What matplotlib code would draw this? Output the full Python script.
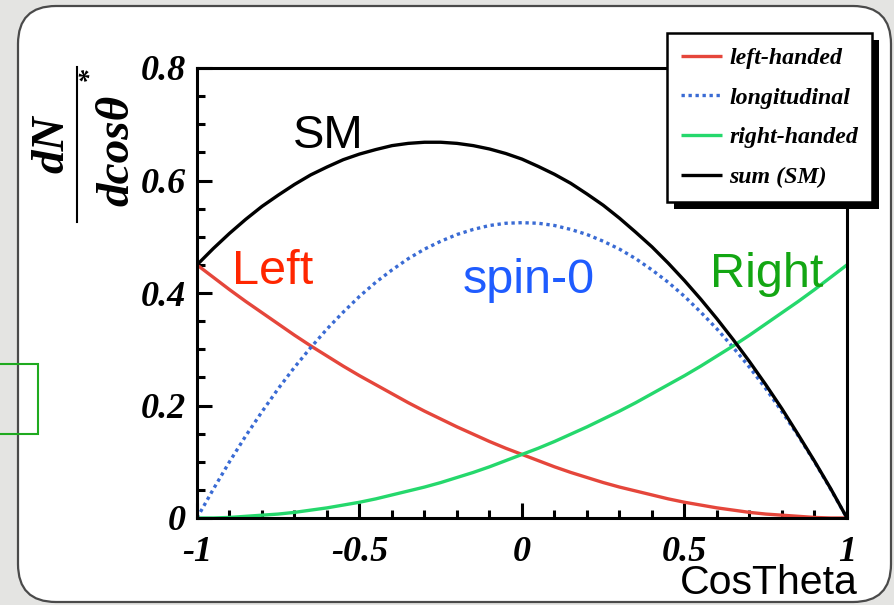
import numpy as np
import matplotlib
matplotlib.use("Agg")
import matplotlib.pyplot as plt
from matplotlib.patches import FancyBboxPatch, Rectangle
from matplotlib.lines import Line2D
from matplotlib.font_manager import FontProperties
from matplotlib.ticker import MultipleLocator, FixedLocator, FixedFormatter

plt.rcParams['axes.unicode_minus'] = False

# ---------------- data ----------------
cos_theta = [-1.00, -0.95, -0.90, -0.85, -0.80, -0.75, -0.70, -0.65, -0.60, -0.55,
             -0.50, -0.45, -0.40, -0.35, -0.30, -0.25, -0.20, -0.15, -0.10, -0.05,
             0.00, 0.05, 0.10, 0.15, 0.20, 0.25, 0.30, 0.35, 0.40, 0.45,
             0.50, 0.55, 0.60, 0.65, 0.70, 0.75, 0.80, 0.85, 0.90, 0.95, 1.00]

left_handed = [0.450, 0.428, 0.406, 0.385, 0.365, 0.345, 0.325, 0.306, 0.288, 0.270,
               0.253, 0.237, 0.221, 0.205, 0.190, 0.176, 0.162, 0.149, 0.136, 0.124,
               0.113, 0.102, 0.091, 0.081, 0.072, 0.063, 0.055, 0.048, 0.041, 0.034,
               0.028, 0.023, 0.018, 0.014, 0.010, 0.007, 0.005, 0.003, 0.001, 0.000, 0.000]

longitudinal = [0.000, 0.051, 0.100, 0.146, 0.189, 0.230, 0.268, 0.303, 0.336, 0.366,
                0.394, 0.419, 0.441, 0.461, 0.478, 0.492, 0.504, 0.513, 0.520, 0.524,
                0.525, 0.524, 0.520, 0.513, 0.504, 0.492, 0.478, 0.461, 0.441, 0.419,
                0.394, 0.366, 0.336, 0.303, 0.268, 0.230, 0.189, 0.146, 0.100, 0.051, 0.000]

right_handed = [0.000, 0.000, 0.001, 0.003, 0.005, 0.007, 0.010, 0.014, 0.018, 0.023,
                0.028, 0.034, 0.041, 0.048, 0.055, 0.063, 0.072, 0.081, 0.091, 0.102,
                0.113, 0.124, 0.136, 0.149, 0.162, 0.176, 0.190, 0.205, 0.221, 0.237,
                0.253, 0.270, 0.288, 0.306, 0.325, 0.345, 0.365, 0.385, 0.406, 0.428, 0.450]

sum_sm = [0.450, 0.479, 0.506, 0.531, 0.554, 0.574, 0.593, 0.610, 0.624, 0.637,
          0.647, 0.655, 0.662, 0.666, 0.668, 0.668, 0.666, 0.662, 0.656, 0.648,
          0.638, 0.625, 0.611, 0.595, 0.576, 0.556, 0.533, 0.508, 0.482, 0.453,
          0.422, 0.389, 0.354, 0.317, 0.278, 0.237, 0.194, 0.148, 0.101, 0.052, 0.000]

legend_labels = ['left-handed', 'longitudinal', 'right-handed', 'sum (SM)']
x_ticks = [-1, -0.5, 0, 0.5, 1]
x_tick_labels = ['-1', '-0.5', '0', '0.5', '1']
y_ticks = [0, 0.2, 0.4, 0.6, 0.8]
y_tick_labels = ['0', '0.2', '0.4', '0.6', '0.8']

# ---------------- figure ----------------
W, H = 895, 605
fig = plt.figure(figsize=(W / 100, H / 100), dpi=100)
fig.patch.set_facecolor('#e4e4e2')

# full-figure pixel axes for the slide frame and annotations
bg = fig.add_axes([0, 0, 1, 1], zorder=-1)
bg.set_xlim(0, W)
bg.set_ylim(H, 0)
bg.axis('off')
bg.add_patch(FancyBboxPatch((18, 6), 873, 596,
                            boxstyle='round,pad=0,rounding_size=38',
                            fc='white', ec='#4a4a4a', lw=1.6))
bg.add_patch(Rectangle((-5, 364), 43, 70, fill=False, ec='#1faa1f', lw=1.5,
                       clip_on=False))

serif_bi = dict(family='Liberation Serif', weight='bold', style='italic')

ax = fig.add_axes([197 / W, 1 - 518 / H, 650 / W, 450 / H])
c_left = '#e5463b'
c_long = '#3a6bd4'
c_right = '#25d86c'
c_sum = '#000000'
l1, = ax.plot(cos_theta, left_handed, color=c_left, lw=2.4, solid_capstyle='butt')
l2, = ax.plot(cos_theta, longitudinal, color=c_long, lw=2.4, ls=(0, (1, 1.1)))
l3, = ax.plot(cos_theta, right_handed, color=c_right, lw=2.4, solid_capstyle='butt')
l4, = ax.plot(cos_theta, sum_sm, color=c_sum, lw=2.4, solid_capstyle='butt')

ax.set_xlim(-1, 1)
ax.set_ylim(0, 0.8)
ax.xaxis.set_major_locator(FixedLocator(x_ticks))
ax.xaxis.set_major_formatter(FixedFormatter(x_tick_labels))
ax.yaxis.set_major_locator(FixedLocator(y_ticks))
ax.yaxis.set_major_formatter(FixedFormatter(y_tick_labels))
ax.xaxis.set_minor_locator(MultipleLocator(0.1))
ax.yaxis.set_minor_locator(MultipleLocator(0.05))
ax.tick_params(which='both', direction='in', top=False, right=False, width=2.2,
               color='black')
ax.tick_params(which='major', length=11)
ax.tick_params(axis='y', which='major', pad=8)
ax.tick_params(axis='x', which='major', pad=13)
ax.tick_params(which='minor', length=5.5)
for lab in ax.get_xticklabels() + ax.get_yticklabels():
    lab.set_fontproperties(FontProperties(size=26, **serif_bi))
for s in ax.spines.values():
    s.set_linewidth(2.2)

# legend
leg = fig.legend([l1, l2, l3, l4], legend_labels, loc='upper left',
                 bbox_to_anchor=(667 / W, 1 - 33 / H), borderaxespad=0,
                 frameon=True, fancybox=False, edgecolor='black', facecolor='white',
                 framealpha=1, prop=FontProperties(size=17.2, **serif_bi),
                 handlelength=1.7, handletextpad=0.3, labelspacing=0.75,
                 borderpad=0.6)
leg.get_frame().set_linewidth(1.8)
fig.canvas.draw()
bb = leg.get_window_extent()
fig.add_artist(Rectangle((bb.x0 + 7, bb.y0 - 7), bb.width, bb.height,
                         transform=None, fc='black', ec='none', zorder=4.5))

# y-label as a fraction
fig.text(52, 144, 'dN', transform=bg.transData, rotation=90, ha='center',
         va='center', fontsize=34, **serif_bi)
fig.text(117, 150, 'dcos\u03b8', transform=bg.transData, rotation=90, ha='center',
         va='center', fontsize=34, **serif_bi)
fig.text(89, 74, '*', transform=bg.transData, rotation=90, ha='center',
         va='center', fontsize=20, **serif_bi)
bg.plot([77, 77], [67, 222], color='black', lw=1.5)

# overlay annotations
sans = 'Liberation Sans'
fig.text(293, 148, 'SM', transform=bg.transData, fontsize=34, family=sans,
         color='black', ha='left', va='baseline')
fig.text(232, 284, 'Left', transform=bg.transData, fontsize=35, family=sans,
         color='#ff2600', ha='left', va='baseline')
fig.text(463, 293, 'spin-0', transform=bg.transData, fontsize=35, family=sans,
         color='#1f5cff', ha='left', va='baseline')
fig.text(710, 287, 'Right', transform=bg.transData, fontsize=35, family=sans,
         color='#13a613', ha='left', va='baseline')
fig.text(680, 594, 'CosTheta', transform=bg.transData, fontsize=29.5, family=sans,
         color='black', ha='left', va='baseline')

fig.savefig('out.png', dpi=100, facecolor=fig.get_facecolor())
